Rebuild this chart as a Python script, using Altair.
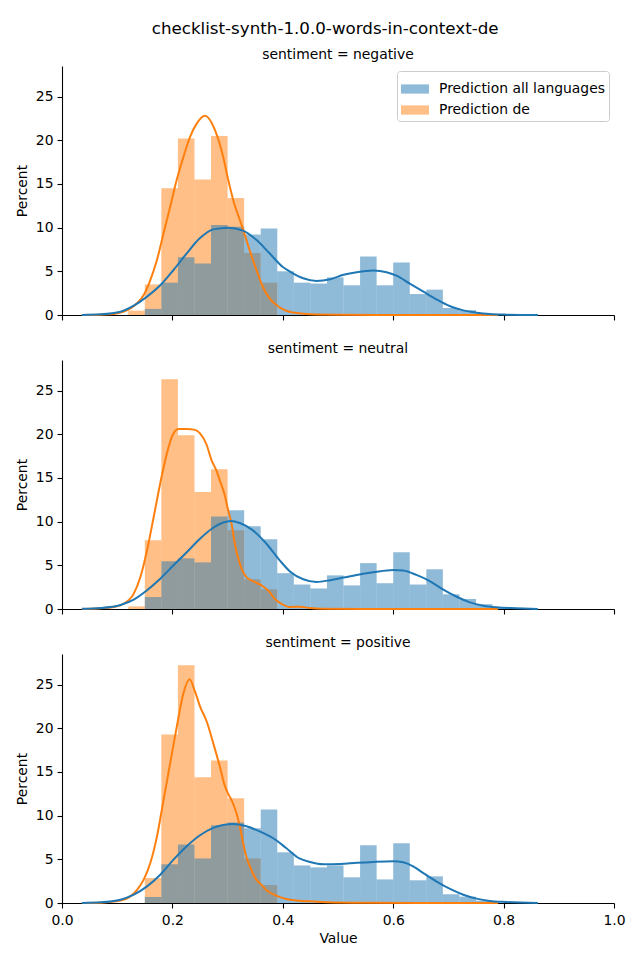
import altair as alt
import pandas as pd

TITLE = "checklist-synth-1.0.0-words-in-context-de"
SENTIMENTS = ["negative", "neutral", "positive"]
SERIES = ["Prediction all languages", "Prediction de"]
COLORS = ["#1f77b4", "#ff7f0e"]
FONT = "DejaVu Sans"

# histogram bin left edges (bin width 0.03)
BIN_LEFT = [0.12, 0.15, 0.18, 0.21, 0.24, 0.27, 0.30, 0.33, 0.36, 0.39, 0.42, 0.45,
            0.48, 0.51, 0.54, 0.57, 0.60, 0.63, 0.66, 0.69, 0.72, 0.75, 0.78]
BIN_WIDTH = 0.03

# percent per bin
NEG_ALL = [0, 0.7, 3.7, 6.6, 5.9, 10.3, 10.1, 9.2, 9.9, 5.0, 3.7, 3.6, 4.3, 3.4, 6.7, 3.4, 6.0, 2.4, 2.9, 0.8, 0.55, 0.15, 0]
NEG_DE = [0.5, 3.5, 14.5, 20.2, 15.5, 20.5, 13.4, 7.1, 3.7, 0, 0, 0, 0, 0, 0, 0, 0, 0, 0, 0, 0, 0, 0]
NEU_ALL = [0, 1.37, 5.46, 5.8, 5.34, 10.6, 11.3, 9.47, 7.98, 4.1, 2.8, 2.35, 3.85, 2.7, 5.25, 2.95, 6.5, 2.8, 4.55, 1.68, 1.15, 0.55, 0.22]
NEU_DE = [0.3, 7.86, 26.3, 19.9, 13.4, 16.0, 9.0, 3.4, 2.25, 0, 0, 0, 0, 0, 0, 0, 0, 0, 0, 0, 0, 0, 0]
POS_ALL = [0, 0.69, 4.43, 6.7, 5.1, 8.9, 9.2, 8.55, 10.7, 5.8, 4.3, 4.08, 4.3, 2.94, 6.6, 2.7, 6.83, 2.6, 3.05, 1.0, 0.73, 0.27, 0]
POS_DE = [0, 2.86, 19.3, 27.2, 14.4, 16.3, 12.0, 5.1, 2.06, 0, 0, 0, 0, 0, 0, 0, 0, 0, 0, 0, 0, 0, 0]

# density curves (value, percent)
NEG_ALL_KX = [0.036, 0.07, 0.106, 0.130, 0.154, 0.178, 0.202, 0.226, 0.250, 0.274, 0.301, 0.328, 0.352, 0.376,
              0.400, 0.413, 0.437, 0.461, 0.486, 0.510, 0.534, 0.564, 0.588, 0.606, 0.630, 0.654, 0.678, 0.702,
              0.727, 0.751, 0.775, 0.805, 0.862]
NEG_ALL_KY = [0.01, 0.08, 0.38, 1.07, 2.1, 3.4, 5.15, 7.06, 8.8, 9.8, 10.0, 9.66, 8.6, 7.06,
              5.5, 4.97, 4.2, 3.9, 4.1, 4.6, 4.9, 5.08, 4.9, 4.5, 3.6, 2.7, 1.8, 1.03,
              0.53, 0.27, 0.11, 0.04, 0.0]
NEG_DE_KX = [0.036, 0.07, 0.094, 0.112, 0.124, 0.136, 0.148, 0.160, 0.172, 0.184, 0.196, 0.208, 0.220, 0.232,
             0.244, 0.259, 0.277, 0.292, 0.301, 0.310, 0.322, 0.328, 0.340, 0.352, 0.364, 0.376, 0.394, 0.412,
             0.430, 0.45, 0.5, 0.6, 0.7, 0.79]
NEG_DE_KY = [0.0, 0.04, 0.11, 0.38, 0.76, 1.34, 2.29, 4.0, 6.3, 9.35, 12.4, 15.5, 18.1, 20.4,
             21.9, 22.8, 21.2, 18.1, 15.5, 13.2, 10.9, 9.8, 7.4, 5.2, 3.2, 1.9, 0.88, 0.38,
             0.19, 0.08, 0.03, 0.01, 0.0, 0.0]
NEU_ALL_KX = [0.036, 0.07, 0.106, 0.130, 0.154, 0.178, 0.202, 0.226, 0.250, 0.274, 0.292, 0.306, 0.322, 0.346,
              0.370, 0.394, 0.413, 0.437, 0.461, 0.486, 0.510, 0.534, 0.564, 0.600, 0.618, 0.642, 0.666, 0.690,
              0.715, 0.739, 0.763, 0.787, 0.823, 0.862]
NEU_ALL_KY = [0.02, 0.11, 0.46, 1.07, 2.14, 3.47, 5.0, 6.5, 8.05, 9.3, 9.9, 10.08, 9.85, 9.0,
              7.5, 5.6, 4.3, 3.4, 3.1, 3.3, 3.6, 3.9, 4.2, 4.47, 4.4, 3.9, 3.2, 2.25,
              1.4, 0.76, 0.38, 0.19, 0.08, 0.0]
NEU_DE_KX = [0.036, 0.07, 0.094, 0.112, 0.130, 0.142, 0.154, 0.166, 0.178, 0.190, 0.199, 0.211, 0.226, 0.241,
             0.250, 0.262, 0.271, 0.280, 0.286, 0.295, 0.301, 0.307, 0.313, 0.322, 0.334, 0.346, 0.364, 0.376,
             0.385, 0.397, 0.412, 0.431, 0.449, 0.473, 0.55, 0.65, 0.79]
NEU_DE_KY = [0.0, 0.08, 0.23, 0.6, 1.76, 3.66, 6.7, 10.5, 14.4, 17.8, 19.7, 20.6, 20.6, 20.5,
             20.1, 18.8, 17.0, 15.8, 14.7, 13.0, 11.3, 9.8, 7.5, 5.2, 3.66, 3.2, 2.6, 1.95,
             1.18, 0.61, 0.23, 0.27, 0.11, 0.04, 0.01, 0.0, 0.0]
POS_ALL_KX = [0.036, 0.07, 0.106, 0.130, 0.154, 0.178, 0.202, 0.226, 0.250, 0.274, 0.292, 0.310, 0.334, 0.358,
              0.382, 0.406, 0.430, 0.449, 0.473, 0.504, 0.534, 0.564, 0.600, 0.618, 0.636, 0.654, 0.678, 0.702,
              0.727, 0.751, 0.775, 0.805, 0.862]
POS_ALL_KY = [0.01, 0.08, 0.38, 0.95, 1.9, 3.24, 4.96, 6.5, 7.75, 8.6, 8.93, 9.05, 8.78, 8.2,
              7.44, 6.3, 5.1, 4.7, 4.43, 4.47, 4.6, 4.7, 4.77, 4.66, 4.2, 3.44, 2.48, 1.64,
              0.95, 0.5, 0.23, 0.11, 0.0]
POS_DE_KX = [0.036, 0.07, 0.106, 0.124, 0.136, 0.148, 0.160, 0.172, 0.184, 0.196, 0.208, 0.220, 0.231, 0.241,
             0.250, 0.262, 0.274, 0.286, 0.295, 0.301, 0.307, 0.316, 0.322, 0.328, 0.334, 0.343, 0.352, 0.361,
             0.370, 0.388, 0.406, 0.430, 0.449, 0.48, 0.55, 0.65, 0.79]
POS_DE_KY = [0.0, 0.04, 0.27, 0.76, 1.5, 2.67, 4.58, 7.6, 11.8, 16.0, 20.2, 24.0, 25.6, 24.2,
             22.5, 20.8, 18.3, 15.6, 13.4, 12.5, 11.8, 10.3, 8.8, 6.9, 5.3, 3.8, 2.67, 2.1,
             1.5, 0.84, 0.46, 0.27, 0.19, 0.08, 0.02, 0.0, 0.0]

PANELS = [
    ("negative", NEG_ALL, NEG_DE, NEG_ALL_KX, NEG_ALL_KY, NEG_DE_KX, NEG_DE_KY),
    ("neutral", NEU_ALL, NEU_DE, NEU_ALL_KX, NEU_ALL_KY, NEU_DE_KX, NEU_DE_KY),
    ("positive", POS_ALL, POS_DE, POS_ALL_KX, POS_ALL_KY, POS_DE_KX, POS_DE_KY),
]

X_SCALE = alt.Scale(domain=[0, 1], nice=False, zero=False, padding=0)
Y_SCALE = alt.Scale(domain=[0, 28.5], nice=False, padding=0)
COLOR_SCALE = alt.Scale(domain=SERIES, range=COLORS)
FS = 13.9


def make_panel(idx, name, all_pct, de_pct, akx, aky, dkx, dky):
    bottom = idx == len(PANELS) - 1
    rows = []
    for series, vals in ((SERIES[1], de_pct), (SERIES[0], all_pct)):
        for left, v in zip(BIN_LEFT, vals):
            if v > 0:
                rows.append({"x": left, "x2": left + BIN_WIDTH, "pct": v, "series": series})
    bars_df = pd.DataFrame(rows)
    lines_df = pd.DataFrame(
        [{"x": x, "pct": y, "series": SERIES[0]} for x, y in zip(akx, aky)]
        + [{"x": x, "pct": y, "series": SERIES[1]} for x, y in zip(dkx, dky)]
    )

    x_axis = alt.Axis(values=[0, 0.2, 0.4, 0.6, 0.8, 1.0], format=".1f", labels=bottom,
                      title="Value" if bottom else None, labelPadding=5, titlePadding=5,
                      labelFlush=False)
    y_axis = alt.Axis(values=[0, 5, 10, 15, 20, 25], title="Percent", labelPadding=4, titlePadding=6,
                      labelFlush=False)

    if idx == 0:
        legend = alt.Legend(
            title=None, orient="top-right", offset=5,
            symbolType="M-1,-0.33L1,-0.33L1,0.33L-1,0.33Z", symbolSize=784,
            symbolOpacity=0.5, symbolStrokeWidth=0,
            labelFont=FONT, labelFontSize=FS, labelColor="#000000", labelOffset=10,
            labelLimit=400, rowPadding=0, padding=4, strokeColor="#cccccc",
            fillColor="#ffffff", cornerRadius=3,
        )
    else:
        legend = None

    layers = []
    for s in (SERIES[1], SERIES[0]):
        layers.append(
            alt.Chart(bars_df).transform_filter(alt.datum.series == s).mark_bar(opacity=0.5, strokeWidth=0)
            .encode(
                x=alt.X("x:Q", scale=X_SCALE, axis=x_axis),
                x2="x2:Q",
                y=alt.Y("pct:Q", scale=Y_SCALE, axis=y_axis),
                y2=alt.datum(0),
                color=alt.Color("series:N", scale=COLOR_SCALE, legend=legend),
            )
        )
    for s, c in ((SERIES[1], COLORS[1]), (SERIES[0], COLORS[0])):
        layers.append(
            alt.Chart(lines_df).transform_filter(alt.datum.series == s)
            .mark_line(strokeWidth=2, interpolate="monotone", color=c)
            .encode(
                x=alt.X("x:Q", scale=X_SCALE, axis=x_axis),
                y=alt.Y("pct:Q", scale=Y_SCALE, axis=y_axis),
            )
        )
    return alt.layer(*layers).properties(
        width=552, height=249,
        title=alt.TitleParams(text=f"sentiment = {name}", font=FONT, fontSize=FS,
                              fontWeight="normal", color="#000000", anchor="middle", offset=4.5),
    )


panels = [make_panel(i, *p) for i, p in enumerate(PANELS)]

chart = (
    alt.vconcat(*panels, spacing=19)
    .resolve_scale(color="independent")
    .resolve_legend(color="independent")
    .properties(
        title=alt.TitleParams(text=TITLE, font=FONT, fontSize=16.7, fontWeight="normal",
                              color="#000000", anchor="middle", offset=10, dx=5),
        padding={"left": 15, "top": 20, "right": 10, "bottom": 4},
    )
    .configure_view(stroke=None)
    .configure_axis(
        grid=False, domainColor="#000000", domainWidth=1.1, tickColor="#000000", tickWidth=1.1,
        tickSize=5, labelFont=FONT, labelFontSize=FS, labelColor="#000000",
        titleFont=FONT, titleFontSize=FS, titleColor="#000000", titleFontWeight="normal",
    )
)

chart.save("out.html", embed_options={"renderer": "svg", "actions": False})
